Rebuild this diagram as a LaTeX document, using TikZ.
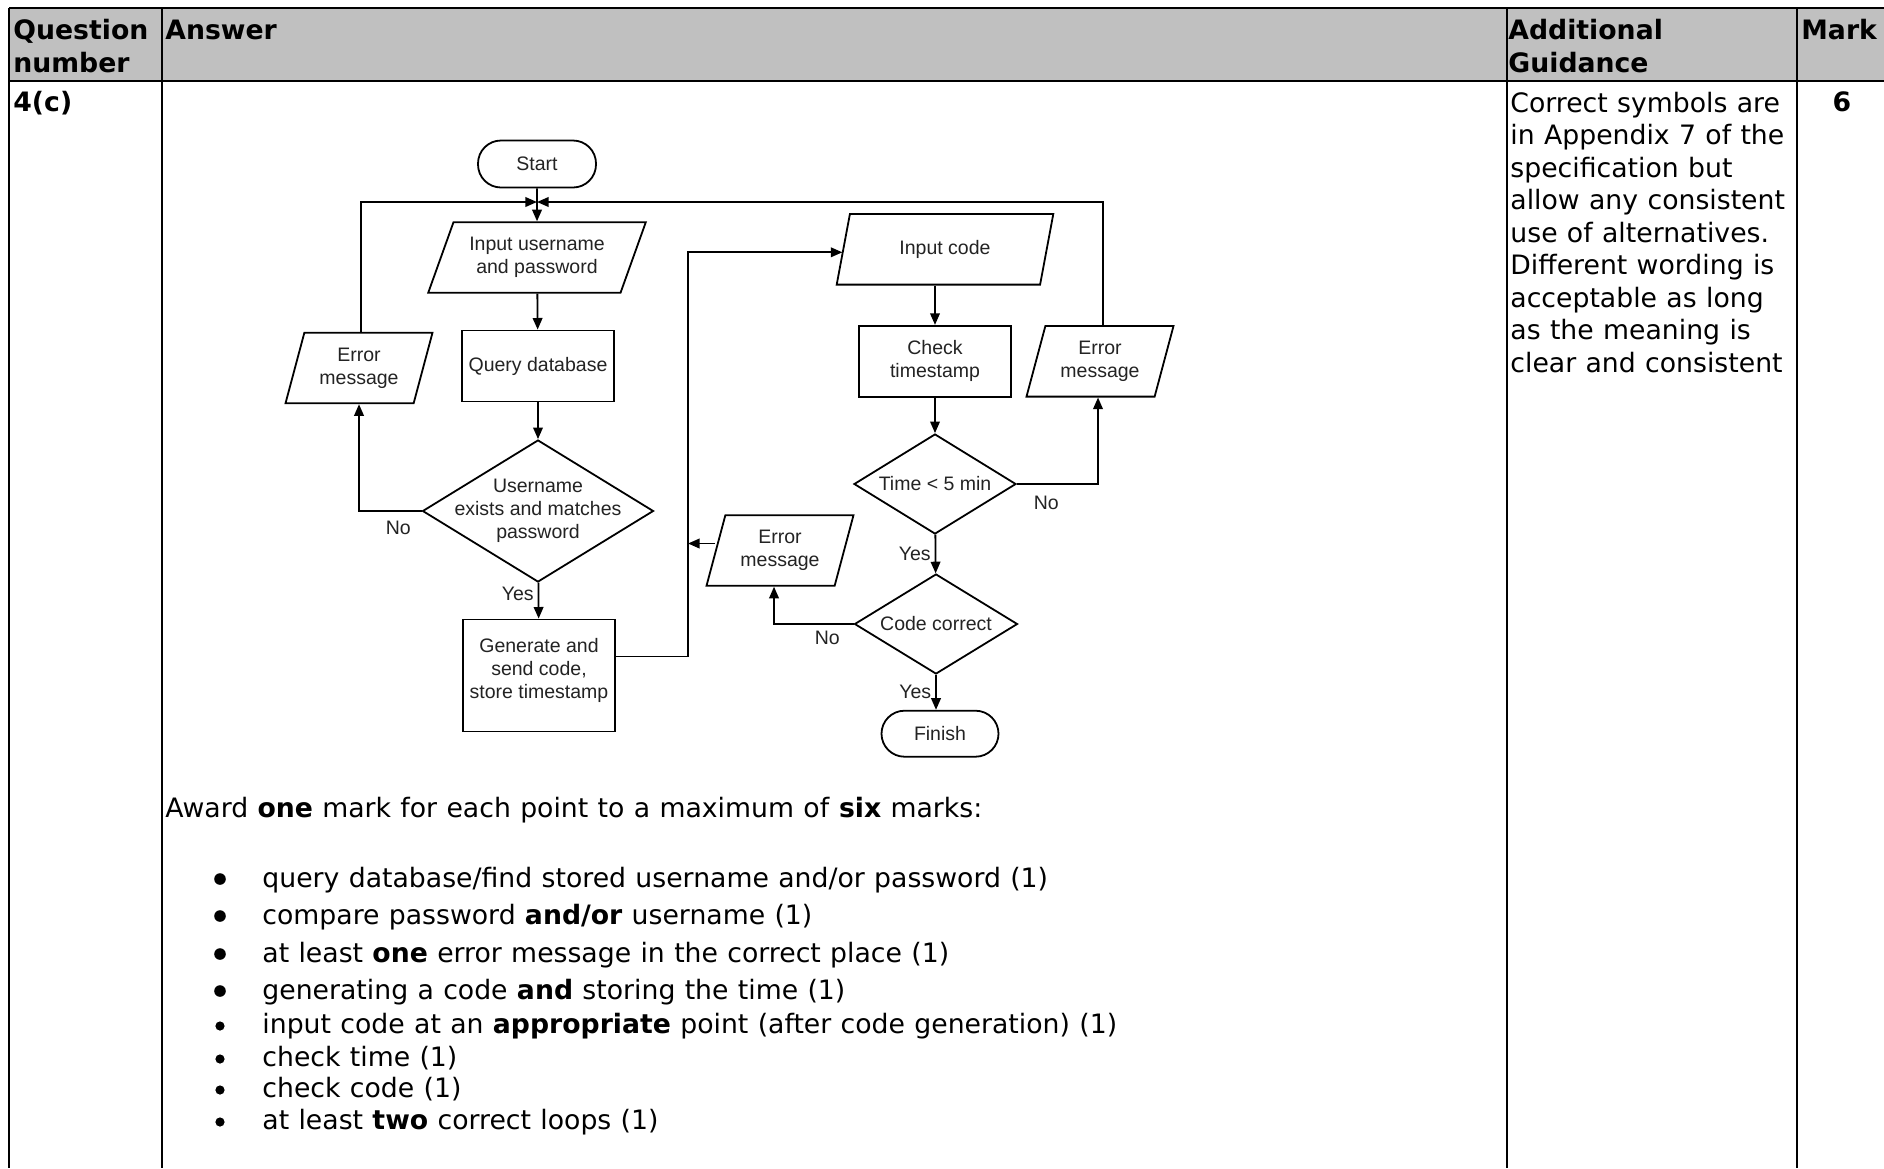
\documentclass[tikz,border=0pt]{standalone}
\usepackage{fontspec}
\setmainfont{DejaVu Sans}[WordSpace=1.1]
\newfontfamily\chartfont{Liberation Sans}
\usetikzlibrary{shapes.geometric,arrows.meta,positioning}

\definecolor{headgrey}{RGB}{192,192,192}
\definecolor{charttext}{RGB}{35,35,35}

\tikzset{
	cell/.style={inner sep=0pt,align=left,font=\fontsize{13.35}{16.25}\selectfont},
	headcell/.style={cell,font=\fontsize{13.35}{16.25}\selectfont\bfseries},
	rule/.style={line width=1pt},
	chart/.style={font=\chartfont\fontsize{9.75}{11.5}\selectfont,text=charttext,align=center,line width=0.9pt},
	term/.style={chart,draw,rounded corners=11.5pt,minimum width=59pt,minimum height=23.5pt},
	io/.style={chart,draw,trapezium,trapezium stretches body,inner sep=0pt,minimum height=35.3pt,minimum width=73.5pt,trapezium left angle=65,trapezium right angle=115},
	proc/.style={chart,draw,minimum width=76pt,minimum height=35.5pt},
	decision/.style={chart,draw,diamond,shape aspect=1.6,inner sep=-6pt},
	lbl/.style={chart,inner sep=2pt},
}

\begin{document}
\begin{tikzpicture}[x=0.5pt,y=-0.5pt,>={Triangle[length=5.8pt,width=4.8pt]}]
	\fill[white] (0,0) rectangle (1884,1168);
	\useasboundingbox (0,0) rectangle (1884,1168);

	\fill[headgrey] (9,8) rectangle (1884,81);
	\draw[rule] (9,8) -- (1884,8);
	\draw[rule] (9,81) -- (1884,81);
	\draw[rule] (9,8) -- (9,1168);
	\draw[rule] (162,8) -- (162,1168);
	\draw[rule] (1507,8) -- (1507,1168);
	\draw[rule] (1797,8) -- (1797,1168);

	\node[headcell,anchor=north west] (qhead) at (13,19) {Question\\number};
	\node[headcell,anchor=base west] (ahead) at (165,39) {Answer};
	\node[headcell,anchor=north west] (ghead) at (1508,19) {Additional\\Guidance};
	\node[headcell,anchor=base west] (mhead) at (1801,39) {Mark};

	\node[headcell,anchor=base west] (qnum) at (13,111.5) {4(c)};
	\node[headcell,anchor=base] (mark) at (1842,111.5) {6};
	\node[cell,anchor=north west] (guide) at (1510,91.5) {Correct symbols are\\in Appendix 7 of the\\specification but\\allow any consistent\\use of alternatives.\\Different wording is\\acceptable as long\\as the meaning is\\clear and consistent};

	\node[cell,anchor=base west] (award) at (165,817) {Award \textbf{one} mark for each point to a maximum of \textbf{six} marks:};

	\fill (220,879) circle (2.9pt);
	\fill (220,916) circle (2.9pt);
	\fill (220,954) circle (2.9pt);
	\fill (220,991) circle (2.9pt);
	\fill (220,1026) circle (2.3pt);
	\fill (220,1059) circle (2.3pt);
	\fill (220,1090) circle (2.3pt);
	\fill (220,1122) circle (2.3pt);
	\node[cell,anchor=base west] (pt1) at (262,887) {query database/find stored username and/or password (1)};
	\node[cell,anchor=base west] (pt2) at (262,924) {compare password \textbf{and/or} username (1)};
	\node[cell,anchor=base west] (pt3) at (262,962) {at least \textbf{one} error message in the correct place (1)};
	\node[cell,anchor=base west] (pt4) at (262,999) {generating a code \textbf{and} storing the time (1)};
	\node[cell,anchor=base west] (pt5) at (262,1033) {input code at an \textbf{appropriate} point (after code generation) (1)};
	\node[cell,anchor=base west] (pt6) at (262,1066) {check time (1)};
	\node[cell,anchor=base west] (pt7) at (262,1097) {check code (1)};
	\node[cell,anchor=base west] (pt8) at (262,1129) {at least \textbf{two} correct loops (1)};

	\node[term] (start) at (537,164) {Start};
	\node[io,trapezium left angle=58,trapezium right angle=122,minimum width=108.8pt] (inp) at (537,257.5) {Input username\\and password};
	\node[proc,minimum width=75.5pt] (qry) at (538,366) {Query database};
	\node[decision,minimum width=115.5pt,minimum height=71pt] (usr) at (538,511) {Username\\exists and matches\\password};
	\node[proc,minimum height=56pt,text depth=7pt] (gen) at (539,675.5) {Generate and\\send code,\\store timestamp};
	\node[io] (errl) at (359,368) {Error\\message};

	\node[io,trapezium left angle=54,trapezium right angle=126,minimum width=108.3pt] (code) at (945,249.3) {Input code};
	\node[proc] (chk) at (935,361.3) {Check\\timestamp};
	\node[decision,minimum width=81pt,minimum height=50pt] (tim) at (935,484) {Time < 5 min};
	\node[io] (errr) at (1100,361.3) {Error\\message};
	\node[decision,minimum width=81.5pt,minimum height=50pt] (cor) at (936,624) {Code correct};
	\node[io] (errm) at (780,550.5) {Error\\message};
	\node[term,minimum width=58.5pt,minimum height=23pt] (fin) at (940,733.7) {Finish};

	\coordinate (join) at (537,202);
	\coordinate (bus) at (688,0);

	\draw[chart,->] (start) -- (inp);
	\draw[chart,->] ([xshift=1pt]errl.north) |- (join);
	\draw[chart,->] ([xshift=1.5pt]errr.north) |- (join);
	\draw[chart,->] (inp) -- (qry);
	\draw[chart,->] (qry) -- (usr);
	\draw[chart,->] (usr) -- node[lbl,left,pos=0.3]{Yes} (gen);
	\draw[chart,->] (usr.west) node[lbl,below left=2.5pt and 3pt]{No} -| (errl.south);
	\draw[chart,->] ([yshift=9.5pt]gen.east) -| ([yshift=-1.5pt]code.left side -| bus) -- ([yshift=-1.5pt]code.left side);

	\draw[chart,->] (code.south -| chk.north) -- (chk.north);
	\draw[chart,->] (chk) -- (tim);
	\draw[chart,->] (tim.east) node[lbl,below right=3.5pt and 6pt]{No} -| ([xshift=-1pt]errr.south);
	\draw[chart,->] (tim) -- node[lbl,left]{Yes} (cor);
	\draw[chart,->] (cor.west) node[lbl,below left=1pt and 4.5pt]{No} -| ([xshift=-3pt]errm.south);
	\draw[chart,->] ([yshift=3.5pt]errm.left side) -- ([yshift=3.5pt]errm.left side -| bus);
	\draw[chart,->] (cor.south) -- node[lbl,left]{Yes} (cor.south |- fin.north);
\end{tikzpicture}
\end{document}
